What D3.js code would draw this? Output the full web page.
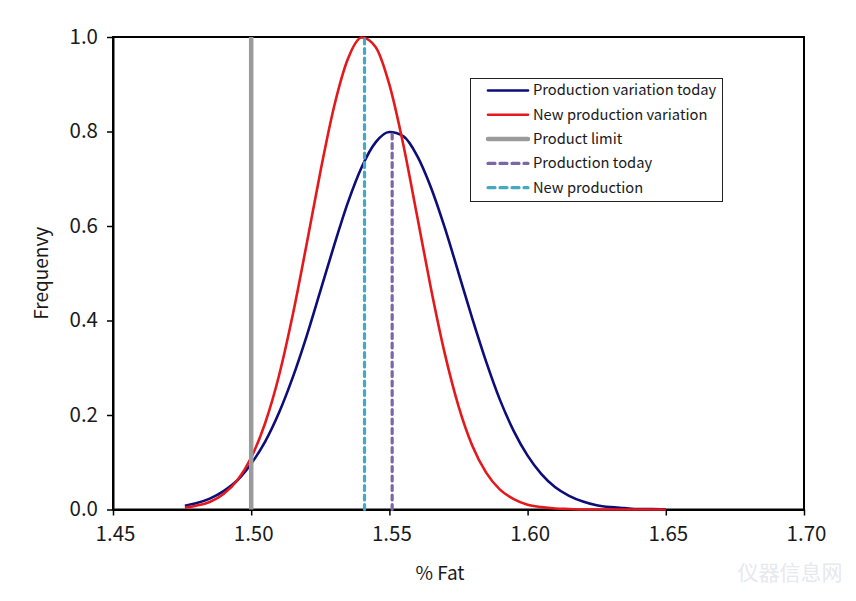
<!DOCTYPE html>
<html>
<head>
<meta charset="utf-8">
<script src="https://cdn.jsdelivr.net/npm/d3@7"></script>
<style>
  html, body { margin: 0; padding: 0; background: #fff; }
  svg { display: block; }
  text { font-family: "Noto Sans CJK SC", "Noto Sans", sans-serif; fill: #1a1a1a; }
</style>
</head>
<body>
<svg id="chart" width="856" height="601"></svg>
<script>
// ---- data ----
const fatValues = [1.476, 1.480, 1.485, 1.490, 1.495, 1.500, 1.505, 1.510, 1.515, 1.520,
  1.525, 1.530, 1.535, 1.540, 1.545, 1.550, 1.555, 1.560, 1.565, 1.570,
  1.575, 1.580, 1.585, 1.590, 1.595, 1.600, 1.605, 1.610, 1.615, 1.620,
  1.625, 1.630, 1.635, 1.640, 1.645, 1.650];
const variationToday = [0.008, 0.013, 0.023, 0.039, 0.062, 0.097, 0.143, 0.204, 0.279, 0.366,
  0.462, 0.559, 0.650, 0.725, 0.777, 0.799, 0.790, 0.749, 0.682, 0.597,
  0.501, 0.404, 0.313, 0.232, 0.166, 0.114, 0.075, 0.047, 0.029, 0.017,
  0.009, 0.005, 0.003, 0.001, 0.001, 0.000];
const variationNew = [0.004, 0.008, 0.016, 0.033, 0.062, 0.110, 0.182, 0.282, 0.411, 0.560,
  0.714, 0.853, 0.954, 0.999, 0.979, 0.899, 0.773, 0.622, 0.469, 0.331,
  0.219, 0.135, 0.078, 0.042, 0.022, 0.010, 0.005, 0.002, 0.001, 0.000,
  0.000, 0.000, 0.000, 0.000, 0.000, 0.000];
const productLimit = 1.50;
const productionToday = 1.551;   // peak 0.8
const newProduction = 1.541;     // peak 1.0
const xTicks = [1.45, 1.50, 1.55, 1.60, 1.65, 1.70];
const yTicks = [0.0, 0.2, 0.4, 0.6, 0.8, 1.0];
const legendLabels = ["Production variation today", "New production variation", "Product limit", "Production today", "New production"];

// ---- layout ----
const svg = d3.select("#chart");
const mLeft = 113, mRight = 804, mTop = 37, mBottom = 509.5;
const x = d3.scaleLinear().domain([1.45, 1.70]).range([mLeft, mRight]);
const y = d3.scaleLinear().domain([0, 1]).range([mBottom, mTop]);

const colors = {
  today: "#0d0d7a",
  newv: "#e3191c",
  limit: "#9b9b9b",
  prodToday: "#7a67a3",
  newProd: "#45a9c1"
};
const FONT = '"Noto Sans CJK SC", "Noto Sans", sans-serif';

// frame
svg.append("rect")
  .attr("x", mLeft).attr("y", mTop)
  .attr("width", mRight - mLeft).attr("height", mBottom - mTop)
  .attr("fill", "none").attr("stroke", "#000").attr("stroke-width", 2);

// axes
const xAxis = d3.axisBottom(x).tickValues(xTicks).tickFormat(d3.format(".2f")).tickSize(6).tickSizeOuter(0);
const gx = svg.append("g").attr("transform", `translate(0,${mBottom})`).call(xAxis);
gx.select(".domain").attr("stroke", "#000").attr("stroke-width", 2);
gx.selectAll(".tick line").attr("stroke", "#000").attr("stroke-width", 1.5);
gx.selectAll(".tick text").attr("font-size", 20.5).attr("y", 31.5).attr("dy", "0").attr("dx", 2).attr("fill", "#1a1a1a")
  .style("font-family", FONT);

const yAxis = d3.axisLeft(y).tickValues(yTicks).tickFormat(d3.format(".1f")).tickSize(6).tickSizeOuter(0);
const gy = svg.append("g").attr("transform", `translate(${mLeft},0)`).call(yAxis);
gy.select(".domain").attr("stroke", "#000").attr("stroke-width", 2);
gy.selectAll(".tick line").attr("stroke", "#000").attr("stroke-width", 1.5);
gy.selectAll(".tick text").attr("font-size", 20.5).attr("x", -15).attr("dy", "0.3em").attr("fill", "#1a1a1a")
  .style("font-family", FONT);

// axis titles
svg.append("text").attr("x", 440).attr("y", 580).attr("text-anchor", "middle")
  .attr("font-size", 19).text("% Fat");
svg.append("text").attr("transform", `translate(48,${(mTop + mBottom) / 2}) rotate(-90)`)
  .attr("text-anchor", "middle").attr("font-size", 19).text("Frequenvy");

// curves
const line = d3.line().x(d => x(d[0])).y(d => y(d[1])).curve(d3.curveMonotoneX);
svg.append("path").datum(fatValues.map((v, i) => [v, variationToday[i]]))
  .attr("d", line).attr("fill", "none").attr("stroke", colors.today).attr("stroke-width", 2.6);
svg.append("path").datum(fatValues.map((v, i) => [v, variationNew[i]]))
  .attr("d", line).attr("fill", "none").attr("stroke", colors.newv).attr("stroke-width", 2.6);

// vertical markers
svg.append("line").attr("x1", x(productLimit)).attr("x2", x(productLimit))
  .attr("y1", y(0)).attr("y2", y(1)).attr("stroke", colors.limit).attr("stroke-width", 4.5);
svg.append("line").attr("x1", x(productionToday)).attr("x2", x(productionToday))
  .attr("y1", y(0)).attr("y2", y(0.8)).attr("stroke", colors.prodToday).attr("stroke-width", 3.2)
  .attr("stroke-dasharray", "5,4.5").attr("stroke-linecap", "round");
svg.append("line").attr("x1", x(newProduction)).attr("x2", x(newProduction))
  .attr("y1", y(0)).attr("y2", y(1)).attr("stroke", colors.newProd).attr("stroke-width", 3.2)
  .attr("stroke-dasharray", "5,4.5").attr("stroke-linecap", "round");

// legend
const lg = svg.append("g");
lg.append("rect").attr("x", 470.5).attr("y", 78.5).attr("width", 252).attr("height", 123)
  .attr("fill", "#fff").attr("stroke", "#222").attr("stroke-width", 1);
const legendStyles = [
  { c: colors.today, w: 2.6, dash: null },
  { c: colors.newv, w: 2.6, dash: null },
  { c: colors.limit, w: 4.5, dash: null },
  { c: colors.prodToday, w: 3.2, dash: "7,5" },
  { c: colors.newProd, w: 3.2, dash: "7,5" }
];
legendLabels.forEach((lab, i) => {
  const yy = 90.5 + i * 24.3;
  const st = legendStyles[i];
  const l = lg.append("line").attr("x1", 488).attr("x2", 528).attr("y1", yy).attr("y2", yy)
    .attr("stroke", st.c).attr("stroke-width", st.w).attr("stroke-linecap", "round");
  if (st.dash) l.attr("stroke-dasharray", st.dash);
  lg.append("text").attr("x", 533).attr("y", yy).attr("dy", "0.34em")
    .attr("font-size", 14.7).text(lab);
});

// watermark
svg.append("text").attr("x", 790).attr("y", 580).attr("text-anchor", "middle")
  .attr("font-size", 21).style("font-family", FONT)
  .style("fill", "#e6e9ee").text("仪器信息网");
</script>
</body>
</html>
